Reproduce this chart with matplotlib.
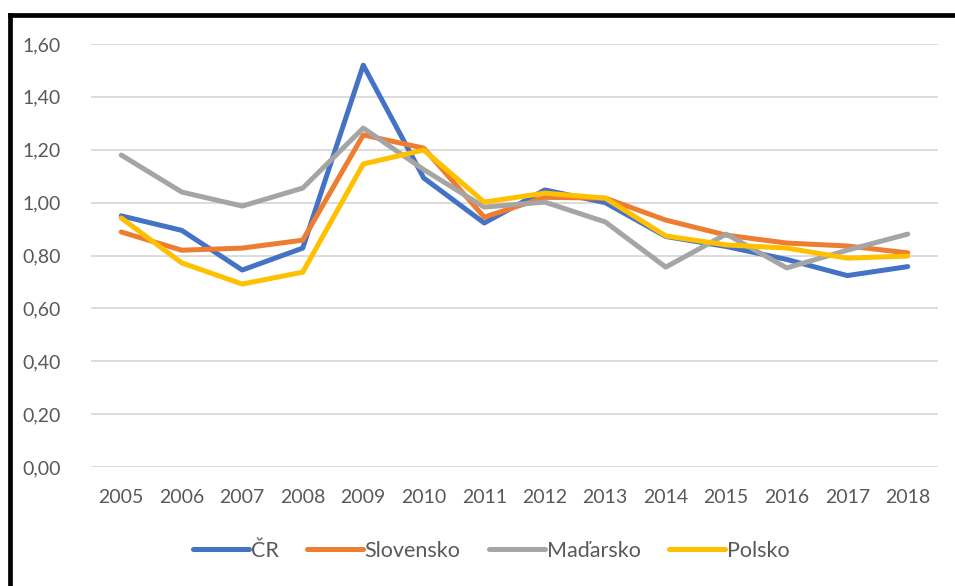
import matplotlib
matplotlib.use("Agg")
import matplotlib.pyplot as plt
from matplotlib.lines import Line2D

years = list(range(2005, 2019))
cr = [0.95, 0.895, 0.745, 0.828, 1.52, 1.093, 0.923, 1.048, 1.00, 0.872, 0.834, 0.785, 0.724, 0.758]
slovensko = [0.889, 0.82, 0.828, 0.858, 1.256, 1.206, 0.945, 1.02, 1.017, 0.934, 0.877, 0.847, 0.836, 0.81]
madarsko = [1.18, 1.04, 0.987, 1.055, 1.282, 1.125, 0.983, 1.002, 0.927, 0.756, 0.881, 0.753, 0.82, 0.881]
polsko = [0.942, 0.772, 0.692, 0.737, 1.146, 1.199, 1.002, 1.036, 1.017, 0.874, 0.84, 0.828, 0.79, 0.798]
series = [("ČR", cr, "#4472C4"), ("Slovensko", slovensko, "#ED7D31"),
          ("Maďarsko", madarsko, "#A5A5A5"), ("Polsko", polsko, "#FFC000")]
yticks = [0.0, 0.2, 0.4, 0.6, 0.8, 1.0, 1.2, 1.4, 1.6]

W, H = 955, 586
FONT = ["Lato", "DejaVu Sans"]
fig = plt.figure(figsize=(W / 100, H / 100), dpi=100)
fig.patch.set_facecolor("white")
ax = fig.add_axes([91 / W, 1 - 467 / H, (938 - 91) / W, (467 - 44) / H])

for name, vals, col in series:
    ax.plot(years, vals, color=col, lw=3.6, label=name, solid_capstyle="round", solid_joinstyle="round")

ax.set_xlim(2004.5, 2018.5)
ax.set_ylim(0, 1.6)
ax.set_yticks(yticks)
ax.set_yticklabels([f"{v:.2f}".replace(".", ",") for v in yticks])
ax.set_xticks(years)
ax.set_xticklabels([str(y) for y in years])
ax.grid(axis="y", color="#D9D9D9", lw=1.3)
ax.set_axisbelow(True)
for s in ax.spines.values():
    s.set_visible(False)
ax.tick_params(length=0, labelsize=14, colors="#595959")
ax.tick_params(axis="x", pad=16)
ax.tick_params(axis="y", pad=22)
for lab in ax.get_xticklabels() + ax.get_yticklabels():
    lab.set_fontfamily(FONT)

leg = fig.legend(loc="center", bbox_to_anchor=(491 / W, 1 - 551 / H), ncol=4, frameon=False,
                 prop={"family": FONT, "size": 15.5}, handlelength=2.6, handletextpad=0.1,
                 columnspacing=1.3)
for t in leg.get_texts():
    t.set_color("#595959")

# black border (left and top)
fig.add_artist(Line2D([10.3 / W, 10.3 / W], [0, 1 - 15 / H], color="black", lw=3.4,
                      transform=fig.transFigure, solid_capstyle="projecting"))
fig.add_artist(Line2D([10.3 / W, 1.0], [1 - 15 / H, 1 - 15 / H], color="black", lw=3.4,
                      transform=fig.transFigure, solid_capstyle="projecting"))

fig.savefig("out.png", dpi=100, facecolor="white")
